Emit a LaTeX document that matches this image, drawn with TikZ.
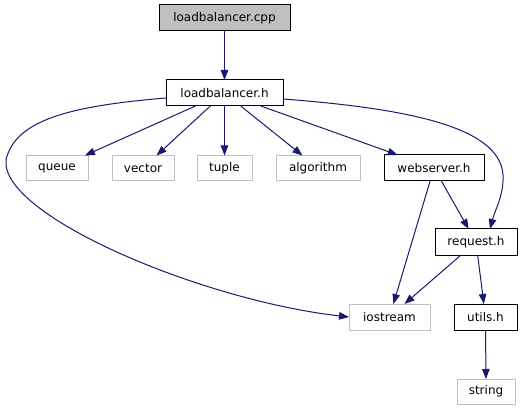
\documentclass[tikz,border=0pt]{standalone}
\usepackage{fontspec}
\setmainfont{DejaVu Sans}
\usetikzlibrary{arrows.meta,calc}
\definecolor{edgecol}{HTML}{191970}
\definecolor{extgrey}{HTML}{BFBFBF}
\begin{document}
\begin{tikzpicture}[x=1pt,y=-1pt,
  box/.style={draw=black,line width=1pt,inner sep=0pt,outer sep=0pt,minimum height=26pt,font=\fontsize{12}{14}\selectfont,fill=white},
  extbox/.style={box,draw=extgrey},
  edge/.style={draw=edgecol,line width=1pt,-{Triangle[length=10pt,width=7.5pt]}}]
\useasboundingbox (0,0) rectangle (529,411);
\fill[white] (0,0) rectangle (529,411);
\node[box,fill=extgrey,minimum width=131pt] (cpp) at (224.5,18) {loadbalancer.cpp};
\node[box,minimum width=117pt] (lbh) at (224.5,93) {loadbalancer.h};
\node[extbox,minimum width=62pt,minimum height=25pt] (queue) at (57,168) {queue};
\node[extbox,minimum width=62pt,minimum height=25pt] (vector) at (143,168) {vector};
\node[extbox,minimum width=55pt,minimum height=25pt] (tuple) at (224.5,168) {tuple};
\node[extbox,minimum width=84pt,minimum height=25pt] (algo) at (318,168) {algorithm};
\node[box,minimum width=100pt] (web) at (434,168) {webserver.h};
\node[box,minimum width=82pt] (req) at (476,242) {request.h};
\node[extbox,minimum width=81pt] (ios) at (389.5,317) {iostream};
\node[box,minimum width=63pt] (utils) at (485.5,317) {utils.h};
\node[extbox,minimum width=58pt,minimum height=25pt] (str) at (486,391.5) {string};

\draw[edge] (cpp) -- (lbh);
\draw[edge] (lbh) -- (queue);
\draw[edge] (lbh) -- (vector);
\draw[edge] (lbh) -- (tuple);
\draw[edge] (lbh) -- (algo);
\draw[edge] (lbh) -- (web);
\draw[edge] ($(lbh.west)+(0,5)$) .. controls (70,106) and (15,120) .. (6,160)
  .. controls (0,215) and (200,300) .. (ios.west);
\draw[edge] ($(lbh.east)+(0,6)$) .. controls (400,108) and (500,125) .. (503,175)
  .. controls (504,195) and (495,210) .. ($(req.north)+(14,0)$);
\draw[edge] (web) -- (ios);
\draw[edge] (web) -- (req);
\draw[edge] (req) -- (ios);
\draw[edge] (req) -- (utils);
\draw[edge] (utils) -- (str);
\end{tikzpicture}
\end{document}
